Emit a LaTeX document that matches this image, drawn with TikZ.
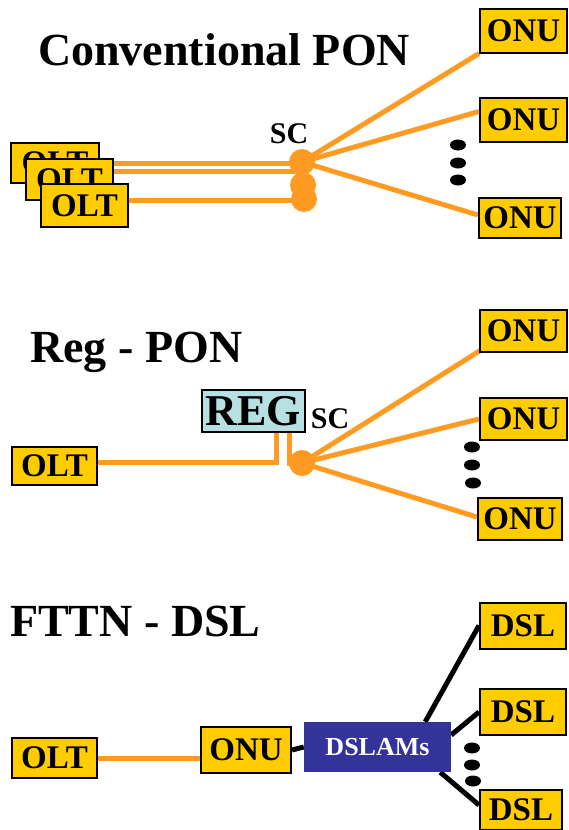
\documentclass[tikz,border=0pt]{standalone}
\usepackage{fontspec}
\setmainfont{Liberation Serif}
\usepackage{xcolor}
\usepackage{tikz}
\usetikzlibrary{positioning,backgrounds}

\definecolor{fiberorange}{HTML}{FF9A22}
\definecolor{boxyellow}{HTML}{FFCC00}
\definecolor{regcyan}{HTML}{B7E0E2}
\definecolor{dslamblue}{HTML}{333399}

\begin{document}
\begin{tikzpicture}[
    x=1pt, y=-1pt,
    % Styles
    title/.style={anchor=base west, inner sep=0, font=\fontsize{46}{46}\selectfont\bfseries},
    unit/.style={rectangle, draw=black, line width=2pt, fill=boxyellow, inner sep=0, minimum width=87pt, minimum height=44pt, font=\fontsize{33}{33}\selectfont\bfseries},
    regbox/.style={unit, fill=regcyan, minimum width=103pt, minimum height=42pt, font=\fontsize{44}{44}\selectfont\bfseries},
    dslambox/.style={rectangle, fill=dslamblue, text=white, inner sep=0, minimum width=147pt, minimum height=50pt, font=\fontsize{26}{26}\selectfont\bfseries},
    splitter/.style={circle, fill=fiberorange, inner sep=0, minimum size=26pt},
    sclabel/.style={inner sep=0, font=\fontsize{30}{30}\selectfont\bfseries},
    fiber/.style={draw=fiberorange, line width=5pt},
    copper/.style={draw=black, line width=5pt}
]
\useasboundingbox (0,0) rectangle (568,830);

% --- Conventional PON ---
\node[title] (t_conv) at (38,65) {Conventional PON};
\node[unit, minimum width=88pt, minimum height=40pt] (olt1) at (55,163) {OLT};
\node[unit, minimum width=87pt, minimum height=41pt] (olt2) at (69.5,179.5) {OLT};
\node[unit, minimum width=87pt, minimum height=43pt] (olt3) at (84.5,205.5) {OLT};
\node[splitter] (sc_a1) at (302,162) {};
\node[splitter] (sc_a2) at (303,185) {};
\node[splitter] (sc_a3) at (304,199) {};
\node[sclabel] (sc_a_lbl) at (289,134) {SC};
\node[unit] (onu_a1) at (523.5,30.5) {ONU};
\node[unit] (onu_a2) at (523.5,119.5) {ONU};
\node[unit, minimum width=82pt, minimum height=40pt] (onu_a3) at (520,218) {ONU};
\coordinate (olt2_out) at ([yshift=8.5pt]olt2.east);
\coordinate (olt3_out) at ([yshift=5.5pt]olt3.east);

% --- Reg - PON ---
\node[title] (t_reg) at (30,362) {Reg - PON};
\node[unit, minimum width=85pt, minimum height=38pt] (olt_b) at (54.5,466) {OLT};
\node[regbox] (reg) at (253.5,411) {REG};
\node[splitter] (sc_b) at (302,463) {};
\node[sclabel] (sc_b_lbl) at (330,419) {SC};
\node[unit, minimum height=42pt] (onu_b1) at (523.5,331) {ONU};
\node[unit, minimum height=42pt] (onu_b2) at (523.5,419) {ONU};
\node[unit, minimum width=84pt, minimum height=42pt] (onu_b3) at (520,519) {ONU};

% --- FTTN - DSL ---
\node[title] (t_fttn) at (10,636) {FTTN - DSL};
\node[unit, minimum width=85pt, minimum height=40pt] (olt_c) at (54.5,758) {OLT};
\node[unit, minimum width=90pt, minimum height=46pt] (onu_c) at (246,750) {ONU};
\node[dslambox] (dslam) at (377.5,747) {DSLAMs};
\node[unit, minimum width=86pt, minimum height=46pt] (dsl1) at (523,625.5) {DSL};
\node[unit, minimum width=86pt, minimum height=46pt] (dsl2) at (523,712) {DSL};
\node[unit, minimum width=82pt, minimum height=40pt] (dsl3) at (521,810) {DSL};

% --- Connections ---
\begin{scope}[on background layer]
    % Conventional PON fibers
    \draw[fiber] (olt1.east) -- (olt1.east -| sc_a1.center);
    \draw[fiber] (olt2_out) -- (olt2_out -| sc_a1.center);
    \draw[fiber] (olt3_out) -- (olt3_out -| sc_a3.center);
    \draw[fiber] (sc_a1.center) -- (onu_a1.south west);
    \draw[fiber] (sc_a1.center) -- ([yshift=8pt]onu_a2.west);
    \draw[fiber] (sc_a1.center) -- ([yshift=3pt]onu_a3.west);
    % Reg - PON fibers
    \draw[fiber] ([yshift=4pt]olt_b.east) -| ([xshift=22.5pt]reg.south);
    \draw[fiber] ([xshift=35.5pt]reg.south) |- (sc_b.center);
    \draw[fiber] (sc_b.center) -- ([xshift=2pt,yshift=3pt]onu_b1.south west);
    \draw[fiber] (sc_b.center) -- (onu_b2.west);
    \draw[fiber] (sc_b.center) -- ([yshift=2pt]onu_b3.west);
    % FTTN - DSL
    \draw[fiber] (olt_c.east) -- (olt_c.east -| onu_c.west);
    \draw[copper] (onu_c.east) -- (dslam.west);
    \draw[copper] ([xshift=-26pt]dslam.north east) -- (dsl1.west);
    \draw[copper] ([yshift=12pt]dslam.east) -- (dsl2.west);
    \draw[copper] ([xshift=-11pt]dslam.south east) -- ([yshift=5pt]dsl3.west);
\end{scope}

% --- Continuation dots ---
\foreach \dx/\dy in {458/145, 458/163, 458/180, 472/447, 472/465, 473/483, 472/748, 472/765, 473/781}
    \fill (\dx,\dy) ellipse (8pt and 5.5pt);

\end{tikzpicture}
\end{document}
